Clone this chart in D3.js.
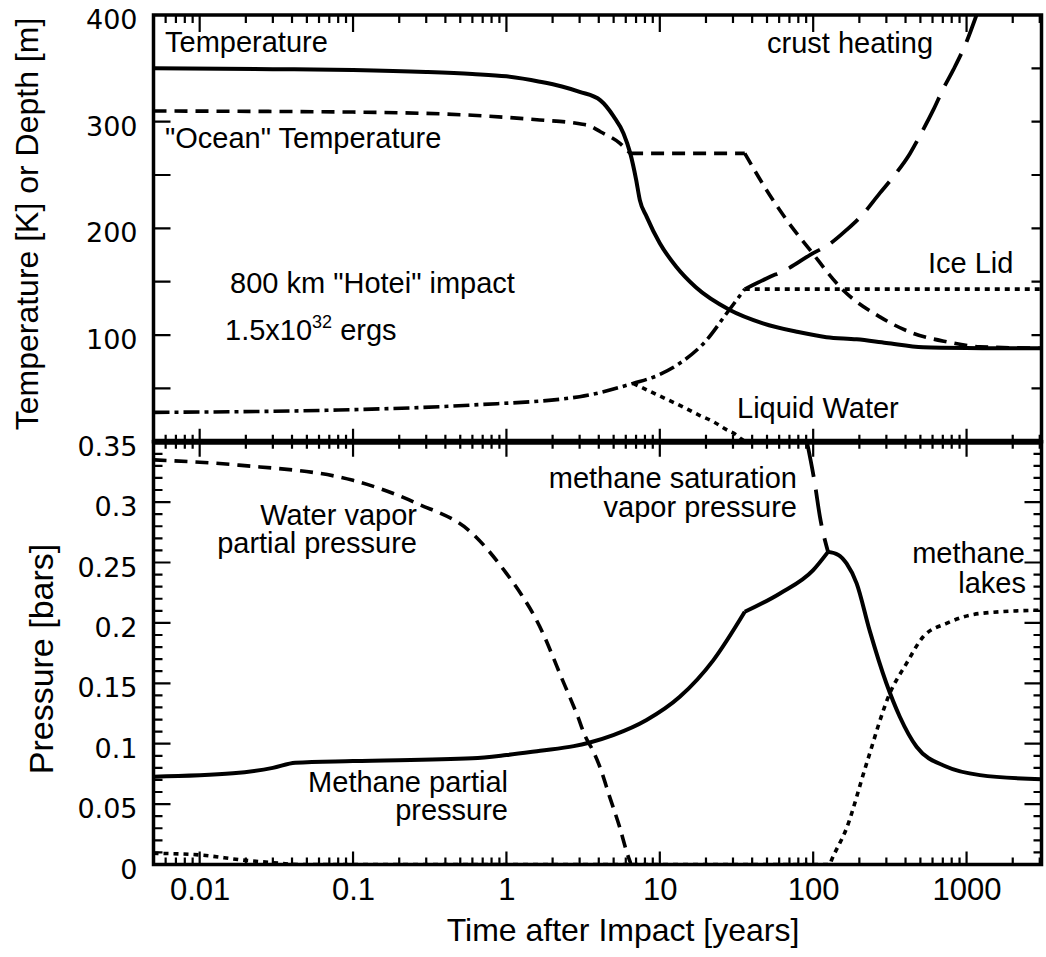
<!DOCTYPE html>
<html>
<head>
<meta charset="utf-8">
<script src="https://cdn.jsdelivr.net/npm/d3@7"></script>
<style>
  body { margin: 0; background: #fff; }
  svg { display: block; }
  text { font-family: "Liberation Sans", Arial, Helvetica, sans-serif; fill: #000; }
  .ylab text { font-family: "DejaVu Sans", Verdana, sans-serif; font-size: 27px; }
  .xlab text { font-size: 31px; }
</style>
</head>
<body>
<svg id="chart" width="1046" height="957"></svg>
<script>
// --- data: [time (years), value] ---
const surfaceTemp = [[0.005,350],[0.03,349.2],[0.1,348.4],[0.3,346.6],[0.6,344.7],[1.0,342.5],[1.65,337.5],
  [2.3,333],[3.0,328],[4.1,320],[5.0,305],[5.8,289],[6.4,271],[7.0,246],[7.41,226.5],[8.2,211],[10,186],
  [12.8,164],[17.1,145],[28.6,123.5],[47,111],[78.5,103],[122,98],[192,96],[300,92.5],[521,88.5],
  [1000,87.8],[3080,87.5]];
const oceanTemp = [[0.005,310],[0.1,309],[0.6,306],[1.65,301.6],[3.0,298],[3.5,296],[4.1,290.6],
  [5.5,279.7],[6.4,270.3],[35.8,270.3],[49.6,236],[67,208],[95,180],[157,142],[272,117],[449,101.6],
  [741,93.7],[1222,89],[3080,87.6]];
const oceanKinks = [6.4, 35.8];
const lowerDepth = [[0.005,27.5],[0.08,29.7],[0.6,34.4],[3.0,42.2],[6.7,54.7],[10,63],[13.5,73.5],
  [20.2,95.3],[27.3,120.4],[35.8,143]];
const crustHeating = [[35.8,143],[49.6,153],[70,163],[95,175],[130,186],[165,198.5],[210,213],[272,233],
  [340,250],[427,270],[510,290],[607,311],[700,330],[819,348.5],[1000,375],[1161,400]];
const iceLid = [[35.8,143],[3080,143]];
const liquidWater = [[6.7,54.7],[10,42.8],[13.5,34],[18,25],[22.3,18.8],[27,11.5],[31.6,6.3],[34,2.5],[36,0]];

const waterVapor = [[0.005,0.335],[0.018,0.3306],[0.1,0.318],[0.26,0.299],[0.6,0.274],[1.0,0.241],
  [1.25,0.2235],[1.53,0.205],[1.78,0.188],[2.01,0.172],[2.28,0.155],[2.58,0.139],[2.93,0.122],
  [3.24,0.107],[3.65,0.0947],[4.06,0.081],[4.71,0.056],[5.47,0.031],[6.17,0.008],[6.5,0]];
const methanePartial = [[0.005,0.0727],[0.0165,0.0755],[0.03,0.08],[0.042,0.0842],[0.1,0.0856],[0.6,0.0879],
  [1.0,0.0906],[1.66,0.0942],[2.75,0.098],[3.45,0.1008],[4.97,0.1071],[8.2,0.1196],[13.5,0.1388],
  [22.3,0.169],[35.8,0.2092],[60.7,0.2244],[100,0.2437],[125,0.2588],[145,0.2565],[165,0.2492],
  [192,0.2327],[233,0.194],[300,0.15],[367,0.1223],[472,0.0975],[741,0.0809],[1222,0.074],[3080,0.0705]];
const methaneKinks = [35.8, 125];
const methaneSat = [[91,0.35],[102.6,0.315],[110.6,0.288],[125,0.2588]];
const methaneLakes = [[0.005,0.0093],[0.01,0.0079],[0.019,0.0037],[0.03,0.0015],[0.045,0],[128,0],[132,0.004],
  [165,0.03],[223,0.0837],[316,0.1417],[406,0.1665],[521,0.1885],[741,0.1996],[1222,0.2078],[3080,0.2106]];

const xMajor = [0.01, 0.1, 1, 10, 100, 1000];
const tempTicks = [50, 100, 150, 200, 250, 300, 350, 400];
const tempLabels = [100, 200, 300, 400];
const presMajor = [0, 0.05, 0.1, 0.15, 0.2, 0.25, 0.3, 0.35];

// --- layout ---
const pL = 153.5, pR = 1041.5, pTop = 15, pMid = 441.7, pBot = 864.5;
const svg = d3.select('#chart');

const x  = d3.scaleLog().domain([0.005, 3080]).range([pL, pR]);
const yT = d3.scaleLinear().domain([0, 400]).range([pMid, pTop]);
const yP = d3.scaleLinear().domain([0, 0.35]).range([pBot, pMid]);

const xMinor = x.ticks().filter(t => !xMajor.some(m => Math.abs(m - t) / m < 1e-6));
const presMinor = d3.range(0, 36).map(i => +(i * 0.01).toFixed(2))
  .filter(v => !presMajor.some(m => Math.abs(m - v) < 1e-9));

// clip paths
const defs = svg.append('defs');
defs.append('clipPath').attr('id', 'clipT').append('rect')
  .attr('x', pL).attr('y', pTop).attr('width', pR - pL).attr('height', pMid - pTop);
defs.append('clipPath').attr('id', 'clipP').append('rect')
  .attr('x', pL).attr('y', pMid).attr('width', pR - pL).attr('height', pBot - pMid);

// series
const DASH = '13,8', LONG = '36,13', DOT = '5,5', DASHDOT = '16,5,4,5';
function splitAt(data, kinks) {
  const parts = [[]];
  data.forEach(d => {
    parts[parts.length - 1].push(d);
    if (kinks.includes(d[0])) parts.push([d]);
  });
  return parts.filter(p => p.length > 1);
}
function series(data, y, clip, dash, width, kinks) {
  const line = d3.line().x(d => x(d[0])).y(d => y(d[1])).curve(d3.curveMonotoneX);
  const parts = kinks ? splitAt(data, kinks) : [data];
  svg.append('path')
    .attr('clip-path', `url(#${clip})`)
    .attr('d', parts.map(p => line(p)).join(''))
    .attr('fill', 'none')
    .attr('stroke', '#000')
    .attr('stroke-width', width)
    .attr('stroke-dasharray', dash);
}

series(surfaceTemp, yT, 'clipT', null, 4);
series(oceanTemp, yT, 'clipT', DASH, 3.6, oceanKinks);
series(lowerDepth, yT, 'clipT', DASHDOT, 3.6);
series(crustHeating, yT, 'clipT', LONG, 3.8);
series(iceLid, yT, 'clipT', DOT, 3.6);
series(liquidWater, yT, 'clipT', DOT, 3.6);

series(waterVapor, yP, 'clipP', DASH, 3.6);
series(methanePartial, yP, 'clipP', null, 4, methaneKinks);
series(methaneSat, yP, 'clipP', LONG, 3.8);
series(methaneLakes, yP, 'clipP', DOT, 3.6);

// tick labels via d3 axes
function axis(gen, tx, ty, cls) {
  const g = svg.append('g').attr('transform', `translate(${tx},${ty})`).attr('class', cls).call(gen);
  g.select('.domain').remove();
  g.selectAll('.tick line').remove();
  return g;
}
axis(d3.axisBottom(x).tickValues(xMajor).tickSize(0).tickPadding(13.5).tickFormat(d3.format('~g')), 0, pBot, 'xlab');
axis(d3.axisLeft(yT).tickValues(tempLabels).tickSize(0).tickPadding(16), pL, 0, 'ylab')
  .selectAll('text').attr('dy', '0.5em');
axis(d3.axisLeft(yP).tickValues(presMajor).tickSize(0).tickPadding(16).tickFormat(d3.format('~g')), pL, 0, 'ylab')
  .selectAll('text').attr('dy', '0.5em');

// frame
svg.append('rect').attr('x', pL).attr('y', pTop).attr('width', pR - pL).attr('height', pMid - pTop)
  .attr('fill', 'none').attr('stroke', '#000').attr('stroke-width', 3.5);
svg.append('rect').attr('x', pL).attr('y', pMid).attr('width', pR - pL).attr('height', pBot - pMid)
  .attr('fill', 'none').attr('stroke', '#000').attr('stroke-width', 3.5);
svg.append('line').attr('x1', pL).attr('x2', pR).attr('y1', pMid).attr('y2', pMid)
  .attr('stroke', '#000').attr('stroke-width', 6);

// axis titles
svg.append('text').attr('transform', 'translate(38,224) rotate(-90)')
  .attr('text-anchor', 'middle').attr('font-size', 32).text('Temperature [K] or Depth [m]');
svg.append('text').attr('transform', 'translate(53,659) rotate(-90)')
  .attr('text-anchor', 'middle').attr('font-size', 34).text('Pressure [bars]');
svg.append('text').attr('x', 623).attr('y', 941)
  .attr('text-anchor', 'middle').attr('font-size', 32).text('Time after Impact [years]');

// in-plot labels
function label(str, px, py, anchor) {
  return svg.append('text').attr('x', px).attr('y', py).attr('font-size', 29)
    .attr('text-anchor', anchor || 'start').text(str);
}
label('Temperature', 165, 51.7);
label('"Ocean" Temperature', 165, 148.3);
label('800 km "Hotei" impact', 230, 293.3);
const erg = label('1.5x10', 225, 340);
erg.append('tspan').attr('font-size', 18).attr('dy', -12).text('32');
erg.append('tspan').attr('dy', 12).text(' ergs');
label('crust heating', 767, 53.3);
label('Ice Lid', 928, 273.3);
label('Liquid Water', 737, 418.3);

label('Water vapor', 417, 525, 'end');
label('partial pressure', 417, 553.3, 'end');
label('Methane partial', 508, 791.7, 'end');
label('pressure', 508, 820, 'end');
label('methane saturation', 797, 488.3, 'end');
label('vapor pressure', 797, 516.7, 'end');
label('methane', 1025, 563.3, 'end');
label('lakes', 1026, 593.3, 'end');

// tick marks: one path per set, positions from the scales, drawn last
function xTicks(values, at, len) {
  svg.append('path')
    .attr('d', values.map(d => `M${x(d)},${at}V${at + len}`).join(''))
    .attr('fill', 'none').attr('stroke', '#000').attr('stroke-width', 2.2);
}
function yTicks(scale, values, at, len) {
  svg.append('path')
    .attr('d', values.map(d => `M${at},${scale(d)}H${at + len}`).join(''))
    .attr('fill', 'none').attr('stroke', '#000').attr('stroke-width', 2.2);
}
xTicks(xMajor, pTop, 17);  xTicks(xMinor, pTop, 8);
xTicks(xMajor, pMid, -13); xTicks(xMinor, pMid, -7);
xTicks(xMajor, pMid, 15);  xTicks(xMinor, pMid, 7);
xTicks(xMajor, pBot, -13); xTicks(xMinor, pBot, -7);
yTicks(yT, tempTicks, pL, 17);  yTicks(yT, tempTicks, pR, -10);
yTicks(yP, presMajor, pL, 17);  yTicks(yP, presMinor, pL, 9);
yTicks(yP, presMajor, pR, -17); yTicks(yP, presMinor, pR, -8);
</script>
</body>
</html>
